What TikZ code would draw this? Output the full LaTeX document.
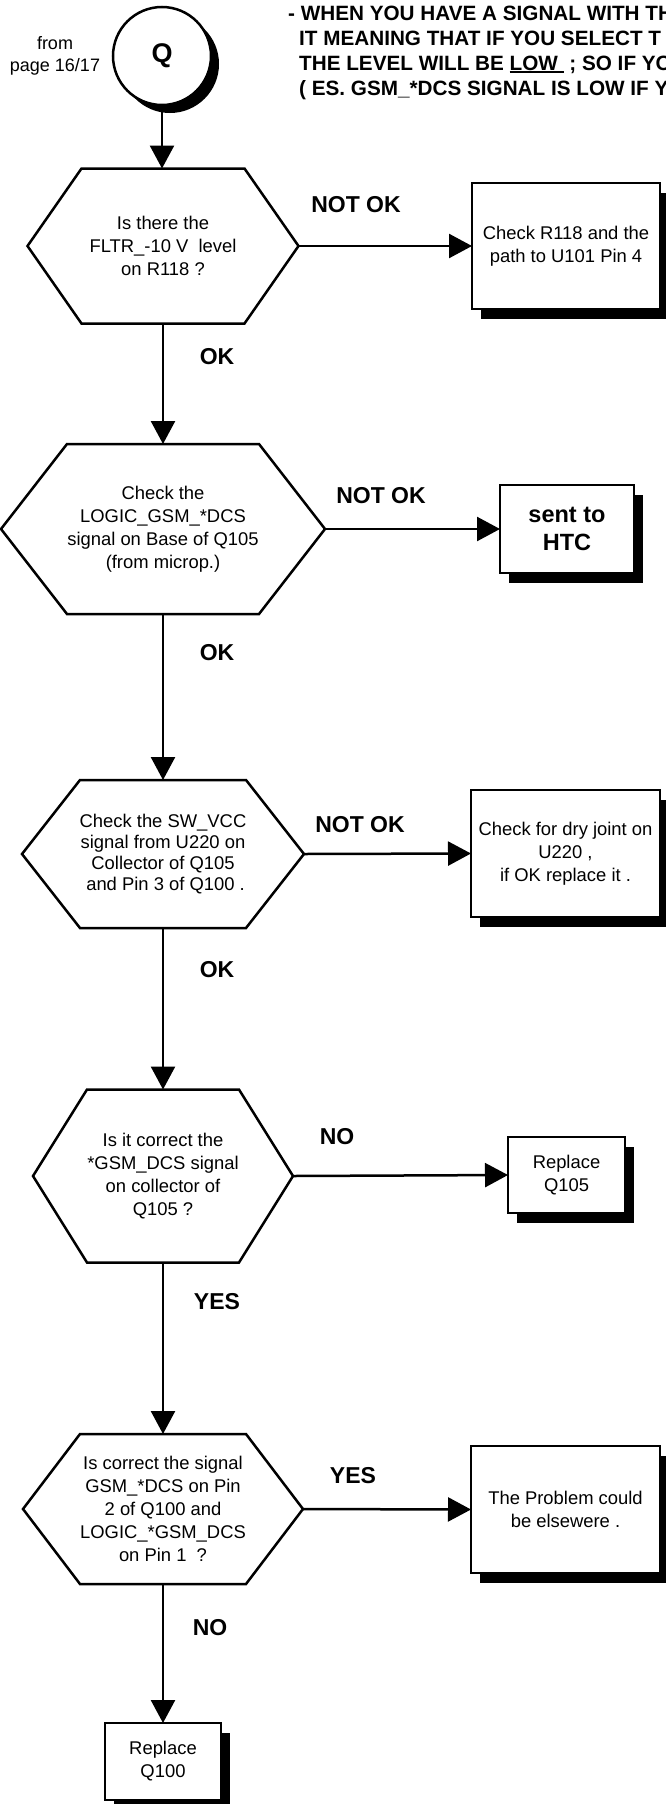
\documentclass[tikz,border=0pt]{standalone}
\usepackage{fontspec}
\setmainfont{Liberation Sans}
\usetikzlibrary{arrows.meta,shadows}

% underline drawn as a rule of the width of its argument
\newcommand\ulined[1]{\setbox0=\hbox{#1}\rlap{\rule[-2.8pt]{\wd0}{1.8pt}}\box0}
% hexagonal outline around a (borderless) rectangular node: name, slant
\newcommand\hexdraw[2]{%
  \draw[hexline] (#1.west) -- ([xshift=#2]#1.north west) -- ([xshift=-#2]#1.north east)
    -- (#1.east) -- ([xshift=-#2]#1.south east) -- ([xshift=#2]#1.south west) -- cycle;}

\tikzset{
  txt/.style={font=\fontsize{18.4}{23}\selectfont, align=center},
  hexbox/.style={txt, inner sep=0pt, outer sep=0pt, draw=none},
  hexline/.style={line width=2.5pt, line join=miter},
  stepbox/.style={txt, draw, line width=2.5pt, fill=white, inner sep=0pt, outer sep=0pt,
    drop shadow={shadow xshift=9pt, shadow yshift=-10pt, opacity=1, fill=black}},
  lbl/.style={font=\bfseries\fontsize{23}{27}\selectfont, inner sep=0pt},
  flow/.style={line width=2.5pt, -{Triangle[length=23pt,width=24pt]}},
  hdr/.style={font=\bfseries\fontsize{20.7}{25}\selectfont, anchor=base west, inner sep=0pt},
}

\begin{document}
\begin{tikzpicture}[x=1pt, y=-1pt]
\fill[white] (0,0) rectangle (666,1804);
\useasboundingbox (0,0) rectangle (666,1804);
\clip (0,0) rectangle (666,1804);

% note at the top
\node[hdr] (t1) at (288,20) {- WHEN YOU HAVE A SIGNAL WITH TH};
\node[hdr] (t2) at (299,45) {IT MEANING THAT IF YOU SELECT T};
\node[hdr] (t3) at (299,70) {THE LEVEL WILL BE \ulined{LOW\ }\ ; SO IF YO};
\node[hdr] (t4) at (299,95) {( ES. GSM\_*DCS SIGNAL IS LOW IF Y};

% entry point
\node[txt, font=\fontsize{18}{22}\selectfont] (src) at (55,56) {from\\page 16/17};
\node[circle, draw, line width=2.5pt, fill=white, minimum size=98pt, inner sep=0pt,
  font=\bfseries\fontsize{27}{30}\selectfont,
  drop shadow={shadow xshift=8pt, shadow yshift=-8pt, opacity=1, fill=black}] (q) at (162,56) {Q};

% decisions
\node[hexbox, minimum width=271pt, minimum height=155pt] (h1) at (163,246)
  {Is there the\\FLTR\_-10 V\ \ level\\on R118 ?};
\hexdraw{h1}{54pt}
\node[hexbox, minimum width=324pt, minimum height=170pt] (h2) at (163,529)
  {Check the\\LOGIC\_GSM\_*DCS\\signal on Base of Q105\\(from microp.)};
\hexdraw{h2}{66pt}
\node[hexbox, font=\fontsize{18.4}{21}\selectfont, minimum width=282pt, minimum height=148pt] (h3) at (163,854)
  {Check the SW\_VCC\\signal from U220 on\\Collector of Q105\\\ and Pin 3 of Q100 .};
\hexdraw{h3}{58pt}
\node[hexbox, minimum width=260pt, minimum height=173pt] (h4) at (163,1176)
  {Is it correct the\\*GSM\_DCS signal\\on collector of\\Q105 ?};
\hexdraw{h4}{54pt}
\node[hexbox, minimum width=280pt, minimum height=150pt] (h5) at (163,1509)
  {Is correct the signal\\GSM\_*DCS on Pin\\2 of Q100 and\\LOGIC\_*GSM\_DCS\\on Pin 1\ \ ?};
\hexdraw{h5}{57pt}

% actions
\node[stepbox, minimum width=188pt, minimum height=126pt] (b1) at (566,246)
  {Check R118 and the\\path to U101 Pin 4};
\node[stepbox, font=\bfseries\fontsize{23.5}{28}\selectfont, minimum width=134pt, minimum height=88pt] (b2) at (567,529)
  {sent to\\HTC};
\node[stepbox, minimum width=189pt, minimum height=127pt] (b3) at (565.5,853.5)
  {Check for dry joint on\\U220 ,\\if OK replace it .};
\node[stepbox, minimum width=117pt, minimum height=76pt] (b4) at (566.5,1175)
  {Replace\\Q105};
\node[stepbox, minimum width=189pt, minimum height=127pt] (b5) at (565.5,1509.5)
  {The Problem could\\be elsewere .};
\node[stepbox, minimum width=116pt, minimum height=77pt] (b6) at (163,1761.5)
  {Replace\\Q100};

% connectors
\draw[flow] (q.south) -- (q.south |- h1.north);
\draw[flow] (h1.east) -- (b1.west);
\draw[flow] (h1.south) -- (h2.north);
\draw[flow] (h2.east) -- (b2.west);
\draw[flow] (h2.south) -- (h3.north);
\draw[flow] (h3.east) -- (b3.west);
\draw[flow] (h3.south) -- (h4.north);
\draw[flow] (h4.east) -- (b4.west);
\draw[flow] (h4.south) -- (h5.north);
\draw[flow] (h5.east) -- (b5.west);
\draw[flow] (h5.south) -- (b6.north);

% branch labels
\node[lbl] (n1) at (356,205) {NOT OK};
\node[lbl] (y1) at (217,357) {OK};
\node[lbl] (n2) at (381,496) {NOT OK};
\node[lbl] (y2) at (217,653) {OK};
\node[lbl] (n3) at (360,825) {NOT OK};
\node[lbl] (y3) at (217,970) {OK};
\node[lbl] (n4) at (337,1137) {NO};
\node[lbl] (y4) at (217,1302) {YES};
\node[lbl] (y5) at (353,1476) {YES};
\node[lbl] (n5) at (210,1628) {NO};
\end{tikzpicture}
\end{document}
